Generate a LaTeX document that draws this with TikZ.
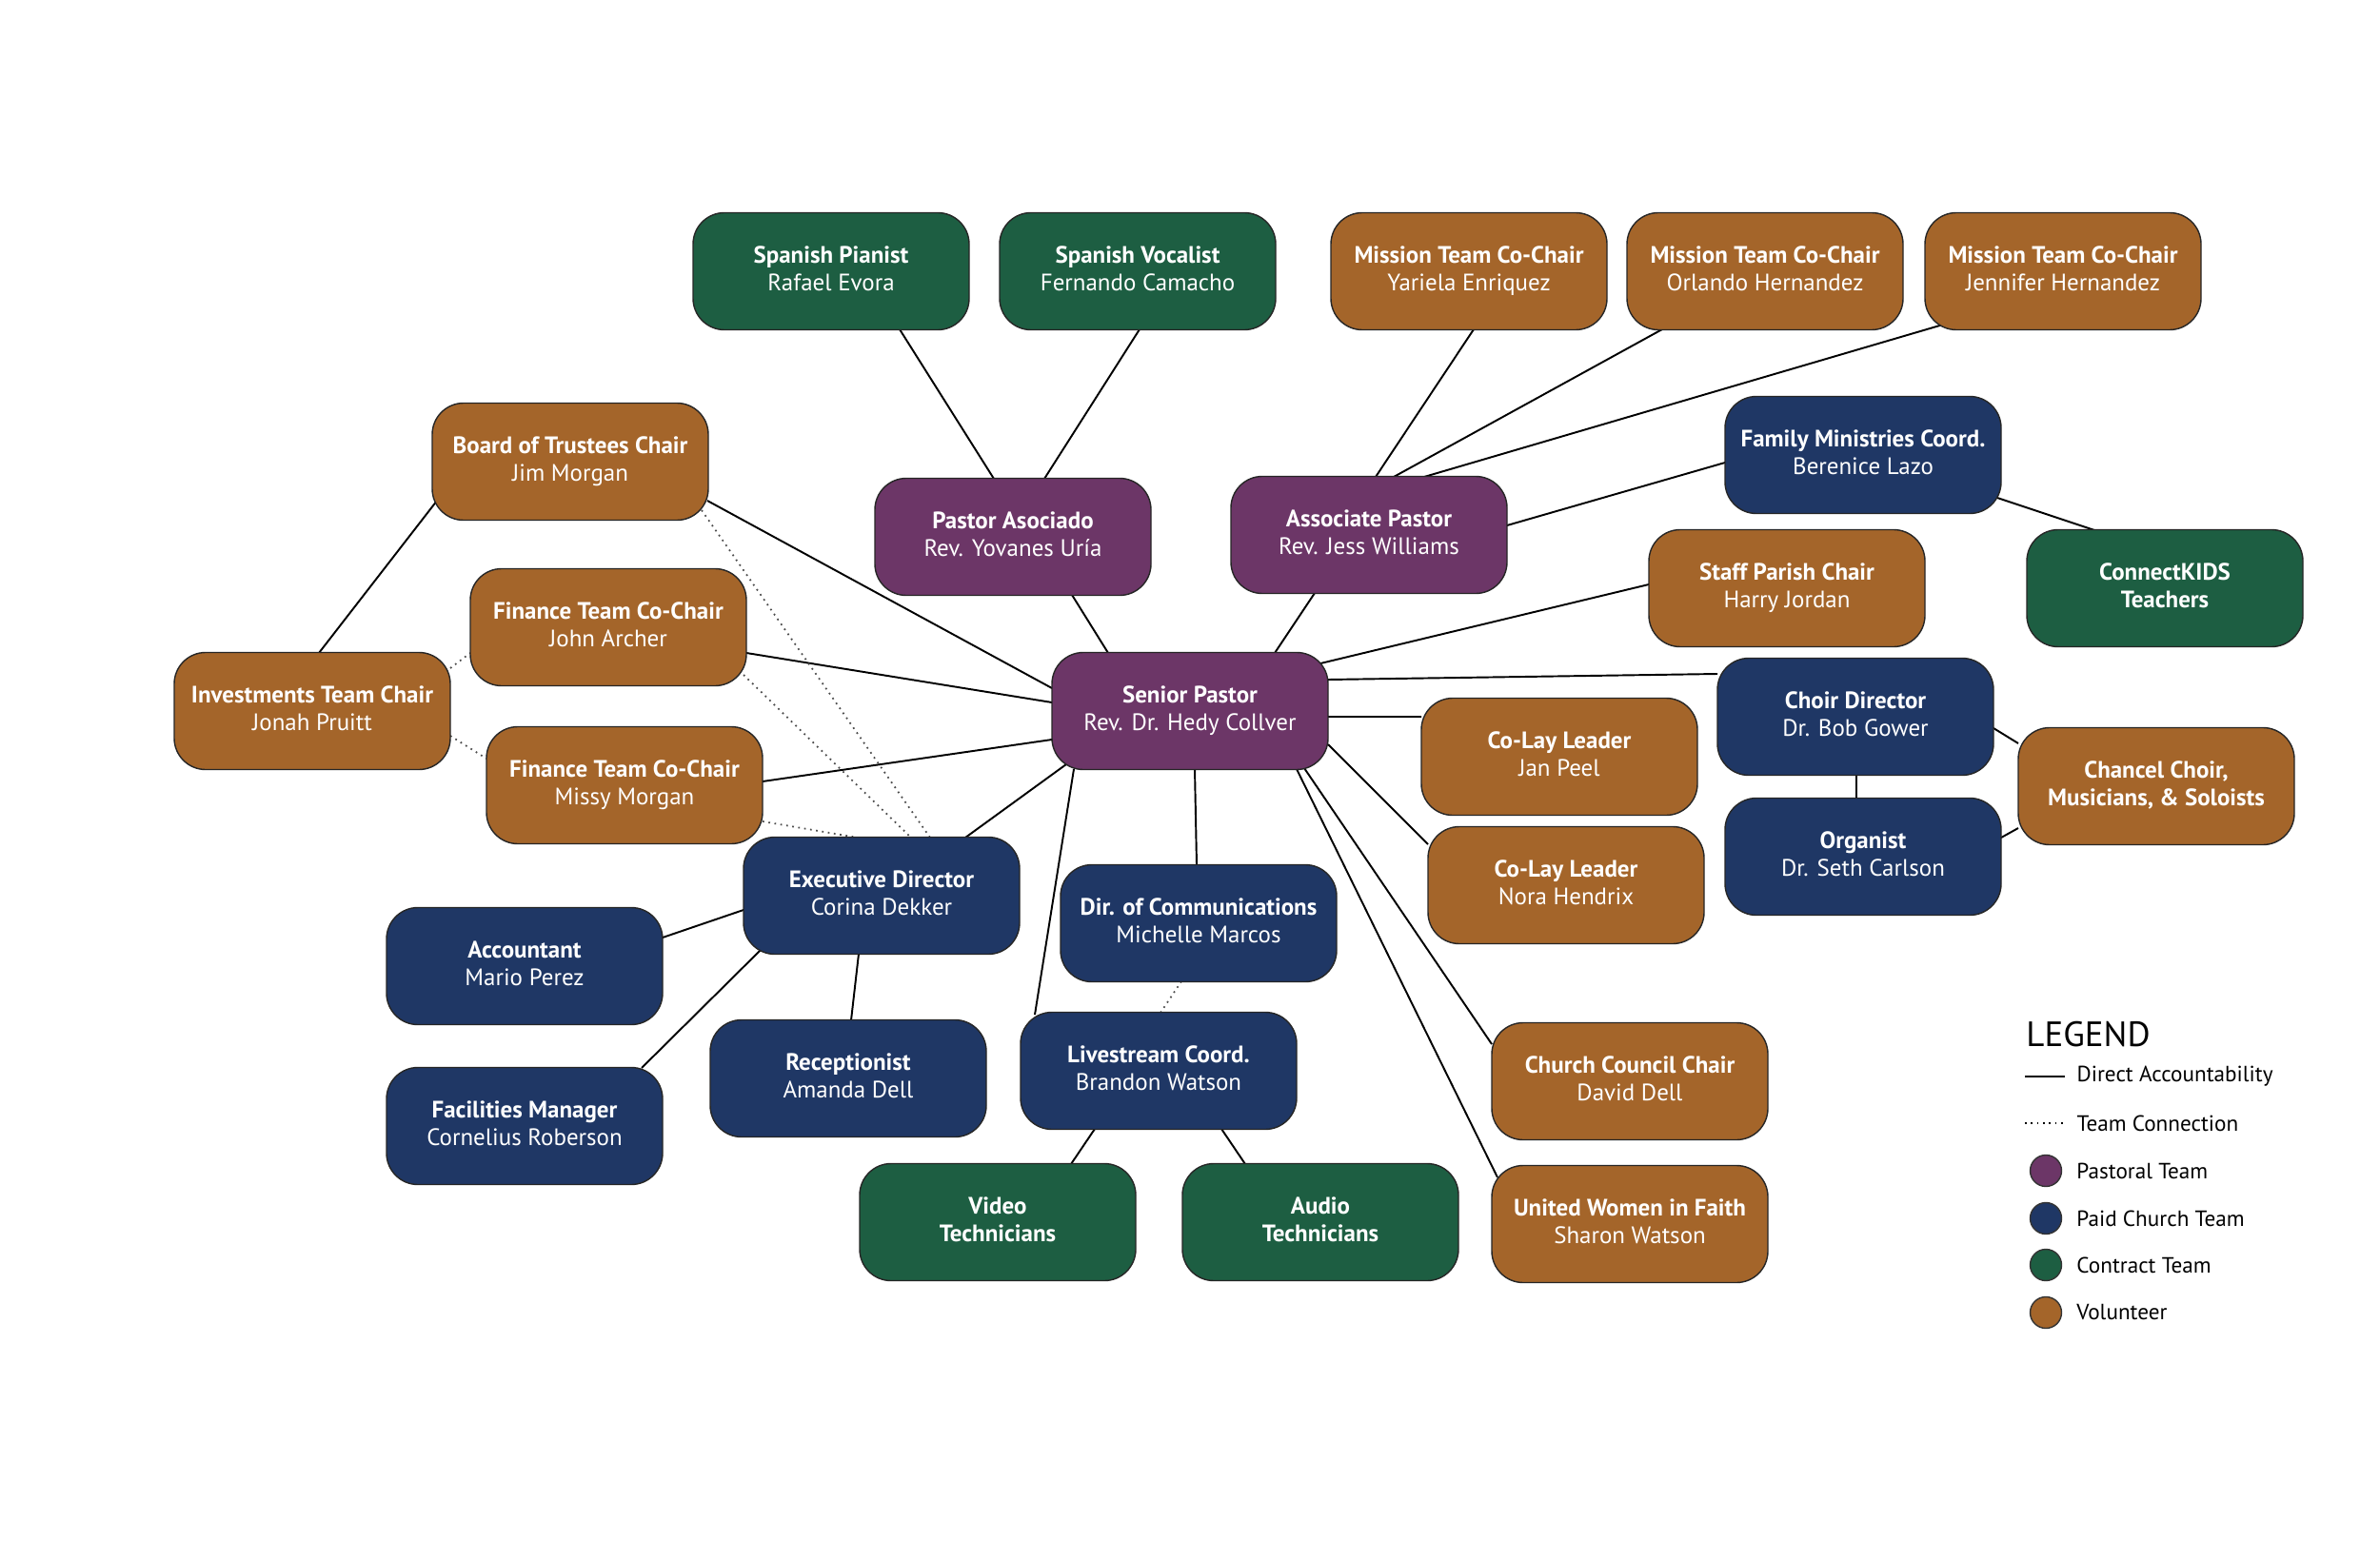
\documentclass[tikz,border=0pt]{standalone}
\usepackage{fontspec}
\setmainfont{PT Sans}
\usetikzlibrary{calc,backgrounds}

\definecolor{pastoral}{RGB}{108,54,103}
\definecolor{paid}{RGB}{31,55,101}
\definecolor{contract}{RGB}{29,94,66}
\definecolor{volunteer}{RGB}{164,101,42}

\newcommand{\person}[2]{\raisebox{3.1pt}{\begin{tabular}{@{}c@{}}\bfseries #1\\#2\end{tabular}}}
\newcommand{\crew}[2]{\raisebox{3.1pt}{\begin{tabular}{@{}c@{}}\bfseries #1\\\bfseries #2\end{tabular}}}

\begin{document}
\begin{tikzpicture}[
    box/.style={draw=black!85,line width=0.4pt,rounded corners=0.33cm,
      minimum width=2.9cm,minimum height=1.23cm,align=center,text=white,
      font=\fontsize{7.1}{8.2}\selectfont},
    pastor/.style={box,fill=pastoral},
    staffer/.style={box,fill=paid},
    hired/.style={box,fill=contract},
    helper/.style={box,fill=volunteer},
    link/.style={line width=0.55pt},
    team/.style={line width=0.5pt,black!70,dash pattern=on 0.5pt off 1.3pt},
    dot/.style={circle,draw=black!80,line width=0.4pt,minimum size=0.33cm,inner sep=0pt}]
  \useasboundingbox (0,0) rectangle (25,16.18);

  \node[hired]  (pianist)  at (8.73,13.33) {\person{Spanish Pianist}{Rafael Evora}};
  \node[hired]  (vocalist) at (11.95,13.33) {\person{Spanish Vocalist}{Fernando Camacho}};
  \node[helper] (yariela)  at (15.43,13.33) {\person{Mission Team Co-Chair}{Yariela Enriquez}};
  \node[helper] (orlando)  at (18.54,13.33) {\person{Mission Team Co-Chair}{Orlando Hernandez}};
  \node[helper] (jennifer) at (21.67,13.33) {\person{Mission Team Co-Chair}{Jennifer Hernandez}};
  \node[helper] (board)    at (5.99,11.33) {\person{Board of Trustees Chair}{Jim Morgan}};
  \node[pastor] (asoc)     at (10.64,10.54) {\person{Pastor Asociado}{Rev. Yovanes Uría}};
  \node[pastor] (assoc)    at (14.38,10.56) {\person{Associate Pastor}{Rev. Jess Williams}};
  \node[staffer] (family)  at (19.57,11.40) {\person{Family Ministries Coord.}{Berenice Lazo}};
  \node[hired]  (kids)     at (22.74,10.00) {\crew{ConnectKIDS}{Teachers}};
  \node[helper] (parish)   at (18.77,10.00) {\person{Staff Parish Chair}{Harry Jordan}};
  \node[helper] (john)     at (6.39,9.59) {\person{Finance Team Co-Chair}{John Archer}};
  \node[helper] (invest)   at (3.28,8.71) {\person{Investments Team Chair}{Jonah Pruitt}};
  \node[pastor] (senior)   at (12.50,8.71) {\person{Senior Pastor}{Rev. Dr. Hedy Collver}};
  \node[helper] (janpeel)  at (16.38,8.23) {\person{Co-Lay Leader}{Jan Peel}};
  \node[staffer] (choir)   at (19.49,8.65) {\person{Choir Director}{Dr. Bob Gower}};
  \node[helper] (chancel)  at (22.65,7.92) {\crew{Chancel Choir,}{Musicians, \& Soloists}};
  \node[helper] (missy)    at (6.56,7.93) {\person{Finance Team Co-Chair}{Missy Morgan}};
  \node[staffer] (organist) at (19.57,7.18) {\person{Organist}{Dr. Seth Carlson}};
  \node[helper] (nora)     at (16.45,6.88) {\person{Co-Lay Leader}{Nora Hendrix}};
  \node[staffer] (exec)    at (9.26,6.77) {\person{Executive Director}{Corina Dekker}};
  \node[staffer] (comm)    at (12.59,6.48) {\person{Dir. of Communications}{Michelle Marcos}};
  \node[staffer] (account) at (5.51,6.03) {\person{Accountant}{Mario Perez}};
  \node[staffer] (recept)  at (8.91,4.85) {\person{Receptionist}{Amanda Dell}};
  \node[staffer] (live)    at (12.17,4.93) {\person{Livestream Coord.}{Brandon Watson}};
  \node[helper] (council)  at (17.12,4.82) {\person{Church Council Chair}{David Dell}};
  \node[staffer] (facility) at (5.51,4.35) {\person{Facilities Manager}{Cornelius Roberson}};
  \node[hired]  (video)    at (10.48,3.34) {\crew{Video}{Technicians}};
  \node[hired]  (audio)    at (13.87,3.34) {\crew{Audio}{Technicians}};
  \node[helper] (women)    at (17.12,3.32) {\person{United Women in Faith}{Sharon Watson}};

  \begin{scope}[on background layer]
    \draw[link] ($(pianist)+(0.72,-0.61)$) -- ($(asoc)+(-0.20,0.61)$);
    \draw[link] ($(vocalist)+(0.02,-0.61)$) -- ($(asoc)+(0.33,0.61)$);
    \draw[link] ($(yariela)+(0.05,-0.61)$) -- ($(assoc)+(0.07,0.61)$);
    \draw[link] ($(orlando)+(-1.08,-0.61)$) -- ($(assoc)+(0.26,0.61)$);
    \draw[link] ($(jennifer)+(-1.26,-0.56)$) -- ($(assoc)+(0.58,0.61)$);
    \draw[link] ($(family)+(-1.45,-0.08)$) -- ($(assoc)+(1.45,0.10)$);
    \draw[link] ($(family)+(1.41,-0.45)$) -- ($(kids)+(-0.74,0.61)$);
    \draw[link] ($(asoc)+(0.62,-0.61)$) -- ($(senior)+(-0.86,0.61)$);
    \draw[link] ($(assoc)+(-0.57,-0.61)$) -- ($(senior)+(0.89,0.61)$);
    \draw[link] ($(board)+(1.44,-0.41)$) -- ($(senior)+(-1.45,0.24)$);
    \draw[link] ($(board)+(-1.40,-0.41)$) -- ($(invest)+(0.07,0.61)$);
    \draw[link] ($(john)+(1.45,-0.27)$) -- ($(senior)+(-1.45,0.09)$);
    \draw[link] ($(missy)+(1.45,0.04)$) -- ($(senior)+(-1.45,-0.30)$);
    \draw[link] ($(parish)+(-1.45,0.04)$) -- ($(senior)+(1.37,0.50)$);
    \draw[link] ($(senior)+(1.45,0.33)$) -- ($(choir)+(-1.45,0.45)$);
    \draw[link] ($(senior)+(1.45,-0.06)$) -- ($(janpeel)+(-1.45,0.42)$);
    \draw[link] ($(senior)+(1.45,-0.35)$) -- ($(nora)+(-1.45,0.43)$);
    \draw[link] ($(senior)+(1.20,-0.60)$) -- ($(council)+(-1.45,0.39)$);
    \draw[link] ($(senior)+(1.12,-0.61)$) -- ($(women)+(-1.39,0.49)$);
    \draw[link] ($(senior)+(0.05,-0.61)$) -- ($(comm)+(-0.02,0.61)$);
    \draw[link] ($(senior)+(-1.22,-0.61)$) -- ($(live)+(-1.30,0.59)$);
    \draw[link] ($(senior)+(-1.30,-0.56)$) -- ($(exec)+(0.88,0.61)$);
    \draw[link] ($(choir)+(0.01,-0.61)$) -- ($(organist)+(-0.07,0.61)$);
    \draw[link] ($(choir)+(1.45,-0.12)$) -- ($(chancel)+(-1.45,0.45)$);
    \draw[link] ($(organist)+(1.45,0.20)$) -- ($(chancel)+(-1.45,-0.44)$);
    \draw[link] ($(exec)+(-1.45,-0.15)$) -- ($(account)+(1.45,0.30)$);
    \draw[link] ($(exec)+(-1.27,-0.57)$) -- ($(facility)+(1.23,0.61)$);
    \draw[link] ($(exec)+(-0.24,-0.61)$) -- ($(recept)+(0.03,0.61)$);
    \draw[link] ($(live)+(-0.67,-0.61)$) -- ($(video)+(0.77,0.61)$);
    \draw[link] ($(live)+(0.66,-0.61)$) -- ($(audio)+(-0.79,0.61)$);
    \draw[team] ($(comm)+(-0.18,-0.61)$) -- ($(live)+(0.02,0.61)$);
    \draw[team] ($(board)+(1.38,-0.51)$) -- ($(exec)+(0.51,0.61)$);
    \draw[team] ($(john)+(1.42,-0.50)$) -- ($(exec)+(0.31,0.61)$);
    \draw[team] ($(missy)+(1.45,-0.38)$) -- ($(exec)+(-0.25,0.61)$);
    \draw[team] ($(invest)+(1.45,0.45)$) -- ($(john)+(-1.45,-0.27)$);
    \draw[team] ($(invest)+(1.45,-0.26)$) -- ($(missy)+(-1.45,0.28)$);
  \end{scope}

  \node[anchor=west,font=\fontsize{10.5}{12}\selectfont] (legend) at (21.16,5.31) {LEGEND};
  \begin{scope}[every node/.style={anchor=west,text=black,font=\fontsize{6.6}{8}\selectfont}]
    \coordinate (d0) at (21.27,4.87);
    \coordinate (d1) at (21.69,4.87);
    \draw[link] (d0) -- (d1) node (ldirect) {Direct Accountability};
    \coordinate (t0) at (21.27,4.38);
    \coordinate (t1) at (21.69,4.38);
    \draw[team,black] (t0) -- (t1) node (lteam) {Team Connection};
    \node[dot,anchor=center,fill=pastoral]  (cpast) at (21.49,3.88) {};
    \node[dot,anchor=center,fill=paid]      (cpaid) at (21.49,3.38) {};
    \node[dot,anchor=center,fill=contract]  (ccont) at (21.49,2.89) {};
    \node[dot,anchor=center,fill=volunteer] (cvol)  at (21.49,2.39) {};
    \node (lpast) at (21.69,3.88) {Pastoral Team};
    \node (lpaid) at (21.69,3.38) {Paid Church Team};
    \node (lcont) at (21.69,2.89) {Contract Team};
    \node (lvol)  at (21.69,2.39) {Volunteer};
  \end{scope}
\end{tikzpicture}
\end{document}
